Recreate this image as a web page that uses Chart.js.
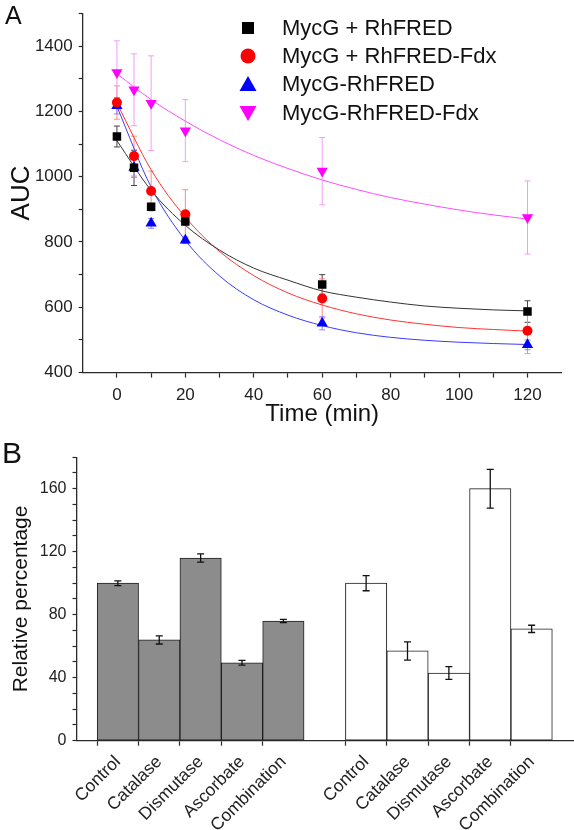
<!DOCTYPE html>
<html><head><meta charset="utf-8">
<script src="https://cdn.jsdelivr.net/npm/chart.js@4.4.1/dist/chart.umd.min.js"></script>
<style>
html,body{margin:0;padding:0;background:#fff;}
#wrap{position:relative;width:574px;height:830px;overflow:hidden;font-family:'Liberation Sans',Arial,sans-serif;color:#111;}
#cA{position:absolute;left:0;top:0;}
#cB{position:absolute;left:0;top:430px;}
.plabel{position:absolute;line-height:1;color:#111;}
#legend{position:absolute;left:235px;top:13.5px;}
.li{display:flex;align-items:center;height:28.3px;font-size:22px;white-space:nowrap;}
.li svg{width:26px;height:20px;margin-right:21px;flex:none;}
</style></head>
<body>
<div id="wrap">
  <canvas id="cA" width="574" height="432"></canvas>
  <canvas id="cB" width="574" height="400"></canvas>
  <div class="plabel" style="left:5px;top:3px;font-size:25px;">A</div>
  <div class="plabel" style="left:2px;top:438px;font-size:30px;">B</div>
  <div id="legend">
    <div class="li"><svg viewBox="0 0 26 20"><rect x="7" y="4" width="12" height="12" fill="#000"/></svg>MycG + RhFRED</div>
    <div class="li"><svg viewBox="0 0 26 20"><circle cx="13" cy="10" r="7.5" fill="#ff0000"/></svg>MycG + RhFRED-Fdx</div>
    <div class="li"><svg viewBox="0 0 26 20"><polygon points="13,2 21.5,17 4.5,17" fill="#0000ff"/></svg>MycG-RhFRED</div>
    <div class="li"><svg viewBox="0 0 26 20"><polygon points="4.5,3 21.5,3 13,18" fill="#ff00ff"/></svg>MycG-RhFRED-Fdx</div>
  </div>
</div>
<script>
// ---------- Panel A data ----------
const timePoints = [0, 5, 10, 20, 60, 120];
const aucMycGRhFRED = [1123, 1027, 908, 863, 670, 587];
const errMycGRhFRED = [32, 54, 10, 10, 30, 33];
const aucMycGRhFREDFdx = [1227, 1063, 956, 885, 627, 528];
const errMycGRhFREDFdx = [51, 61, 61, 75, 60, 70];
const aucFusionRhFRED = [1217, 1028, 857, 805, 551, 485];
const errFusionRhFRED = [25, 30, 15, 10, 20, 15];
const aucFusionRhFREDFdx = [1319, 1266, 1225, 1141, 1017, 875];
const errFusionRhFREDFdx = [97, 110, 145, 95, 103, 112];

// fitted curves
const fitTimes = [0, 10, 20, 30, 40, 50, 60, 70, 80, 90, 100, 110, 120];
const fitMycGRhFRED = [1110, 958, 851, 775, 720, 683, 650, 631, 616, 604, 597, 592, 589];
const fitMycGRhFREDFdx = [1225, 1021, 876, 771, 697, 644, 607, 580, 561, 548, 538, 532, 527];
const fitFusionRhFRED = [1215, 968, 805, 696, 623, 576, 544, 522, 508, 499, 493, 489, 486];
const fitFusionRhFREDFdx = [1315, 1236, 1170, 1113, 1065, 1025, 990, 961, 936, 916, 898, 883, 870];

// ---------- Panel B data ----------
const treatmentLabels = ['Control', 'Catalase', 'Dismutase', 'Ascorbate', 'Combination'];
const grayValues = [100, 64, 116, 49.5, 76];
const grayErrors = [1.5, 2.6, 2.6, 1.5, 1];
const whiteValues = [100, 57, 43, 160, 71];
const whiteErrors = [4.8, 5.8, 4, 12.3, 2.3];

Chart.defaults.font.family = "'Liberation Sans', Arial, sans-serif";
Chart.defaults.color = '#111';
Chart.defaults.animation = false;

const errorBarPlugin = {
  id: 'errorBars',
  drawBars(chart, onTop) {
    const ctx = chart.ctx;
    chart.data.datasets.forEach((ds, i) => {
      if (!ds.errorBars || !!ds.errorOnTop !== onTop) return;
      const meta = chart.getDatasetMeta(i);
      if (!meta.visible) return;
      const yScale = chart.scales[meta.yAxisID];
      ctx.save();
      ctx.strokeStyle = ds.errorColor || '#000';
      ctx.lineWidth = ds.errorWidth || 1;
      const cap = ds.errorCap || 3;
      meta.data.forEach((el, j) => {
        const raw = ds.data[j];
        const v = (raw && typeof raw === 'object') ? raw.y : raw;
        const e = ds.errorBars[j];
        if (v == null || e == null) return;
        const x = el.x;
        const yt = yScale.getPixelForValue(v + e);
        const yb = yScale.getPixelForValue(v - e);
        ctx.beginPath();
        ctx.moveTo(x, yt); ctx.lineTo(x, yb);
        ctx.moveTo(x - cap, yt); ctx.lineTo(x + cap, yt);
        ctx.moveTo(x - cap, yb); ctx.lineTo(x + cap, yb);
        ctx.stroke();
      });
      ctx.restore();
    });
  },
  beforeDatasetsDraw(chart) { this.drawBars(chart, false); },
  afterDatasetsDraw(chart) { this.drawBars(chart, true); }
};

const toXY = (xs, ys) => xs.map((x, i) => ({x: x, y: ys[i]}));
const axisColor = '#2a2a2a';

function pointSet(label, ys, errs, color, errColor, style, radius, rot) {
  return {
    label, data: toXY(timePoints, ys), errorBars: errs, errorColor: errColor, errorCap: 3,
    pointStyle: style, pointRadius: radius, pointHoverRadius: radius, pointRotation: rot || 0,
    backgroundColor: color, borderColor: color, borderWidth: 0, showLine: false, order: 1
  };
}
function curveSet(ys, color) {
  return {
    label: 'fit', data: toXY(fitTimes, ys), showLine: true, pointRadius: 0, borderColor: color,
    borderWidth: 1, cubicInterpolationMode: 'monotone', fill: false, order: 5
  };
}

new Chart(document.getElementById('cA'), {
  type: 'scatter',
  data: {
    datasets: [
      pointSet('MycG + RhFRED', aucMycGRhFRED, errMycGRhFRED, '#000000', '#444444', 'rect', 6),
      pointSet('MycG + RhFRED-Fdx', aucMycGRhFREDFdx, errMycGRhFREDFdx, '#ff0000', '#ff8888', 'circle', 5),
      pointSet('MycG-RhFRED', aucFusionRhFRED, errFusionRhFRED, '#0000ff', '#8888ff', 'triangle', 6.5),
      pointSet('MycG-RhFRED-Fdx', aucFusionRhFREDFdx, errFusionRhFREDFdx, '#ff00ff', '#f59cf5', 'triangle', 6.5, 180),
      curveSet(fitMycGRhFRED, '#333333'),
      curveSet(fitMycGRhFREDFdx, '#ff3333'),
      curveSet(fitFusionRhFRED, '#3a3aff'),
      curveSet(fitFusionRhFREDFdx, '#ff4cff')
    ]
  },
  options: {
    responsive: false,
    layout: {padding: {top: 13.4, right: 12.3, left: 0, bottom: 0}},
    plugins: {legend: {display: false}, tooltip: {enabled: false}},
    scales: {
      x: {
        type: 'linear', min: -10, max: 130,
        afterFit: s => { s.height = 432 - 372.6; s.paddingLeft = 0; s.paddingRight = 0; },
        ticks: {stepSize: 10, autoSkip: false, maxRotation: 0, padding: 8, color: '#222', font: {size: 17},
          callback: v => (v >= 0 && v <= 120 && v % 20 === 0) ? String(v) : ''},
        grid: {drawOnChartArea: false, drawTicks: true, tickLength: 5, tickWidth: 1.2,
          tickColor: c => (c.tick && (c.tick.value === -10 || c.tick.value === 130)) ? 'rgba(0,0,0,0)' : axisColor},
        border: {display: true, color: axisColor, width: 1.3},
        title: {display: true, text: 'Time (min)', font: {size: 24}, color: '#111', padding: {top: 0, bottom: 3}}
      },
      y: {
        type: 'linear', min: 400, max: 1500,
        afterFit: s => { s.width = 82.7; s.paddingTop = 0; s.paddingBottom = 0; },
        ticks: {stepSize: 100, autoSkip: false, padding: 6, color: '#222', font: {size: 17},
          callback: v => (v % 200 === 0 && v < 1500) ? String(v) : ''},
        grid: {drawOnChartArea: false, drawTicks: true, tickLength: 4, tickWidth: 1.2, tickColor: axisColor},
        border: {display: true, color: axisColor, width: 1.3},
        title: {display: true, text: 'AUC', font: {size: 26}, color: '#111', padding: {top: 6, bottom: 0}}
      }
    }
  },
  plugins: [errorBarPlugin]
});

// Panel B: one empty slot at each end and between the two groups
const bLabels = [''].concat(treatmentLabels, [''], treatmentLabels, ['']);
const grayData = [null].concat(grayValues, [null], treatmentLabels.map(() => null), [null]);
const grayErr = [null].concat(grayErrors, [null], treatmentLabels.map(() => null), [null]);
const whiteData = [null].concat(treatmentLabels.map(() => null), [null], whiteValues, [null]);
const whiteErr = [null].concat(treatmentLabels.map(() => null), [null], whiteErrors, [null]);

new Chart(document.getElementById('cB'), {
  type: 'bar',
  data: {
    labels: bLabels,
    datasets: [
      {label: 'gray', data: grayData, errorBars: grayErr, errorOnTop: true, errorColor: '#111', errorWidth: 1.3, errorCap: 3.5,
        backgroundColor: '#8c8c8c', borderColor: '#1e1e1e', borderWidth: 1, borderSkipped: false,
        grouped: false, categoryPercentage: 1, barPercentage: 1},
      {label: 'white', data: whiteData, errorBars: whiteErr, errorOnTop: true, errorColor: '#111', errorWidth: 1.3, errorCap: 3.5,
        backgroundColor: '#ffffff', borderColor: '#1e1e1e', borderWidth: 1, borderSkipped: false,
        grouped: false, categoryPercentage: 1, barPercentage: 1}
    ]
  },
  options: {
    responsive: false,
    layout: {padding: {top: 27.2, right: 1, left: 0, bottom: 0}},
    plugins: {legend: {display: false}, tooltip: {enabled: false}},
    scales: {
      x: {
        type: 'category', offset: false,
        afterFit: s => { s.height = 400 - 310.7; s.paddingLeft = 0; s.paddingRight = 0; },
        ticks: {autoSkip: false, minRotation: 45, maxRotation: 45, padding: 6, color: '#222', font: {size: 17.5}},
        grid: {drawOnChartArea: false, drawTicks: true, tickLength: 5, tickWidth: 1.2,
          tickColor: c => (c.tick && bLabels[c.index] === '') ? 'rgba(0,0,0,0)' : axisColor},
        border: {display: true, color: axisColor, width: 1.3}
      },
      y: {
        min: 0, max: 180,
        afterFit: s => { s.width = 76.5; s.paddingTop = 0; s.paddingBottom = 0; },
        ticks: {stepSize: 10, autoSkip: false, padding: 6, color: '#222', font: {size: 16},
          callback: v => (v % 40 === 0) ? String(v) : ''},
        grid: {drawOnChartArea: false, drawTicks: true, tickLength: 4, tickWidth: 1.2, tickColor: axisColor},
        border: {display: true, color: axisColor, width: 1.3},
        title: {display: true, text: 'Relative percentage', font: {size: 21}, color: '#111', padding: {top: 9, bottom: 0}}
      }
    }
  },
  plugins: [errorBarPlugin]
});
</script>
</body></html>
